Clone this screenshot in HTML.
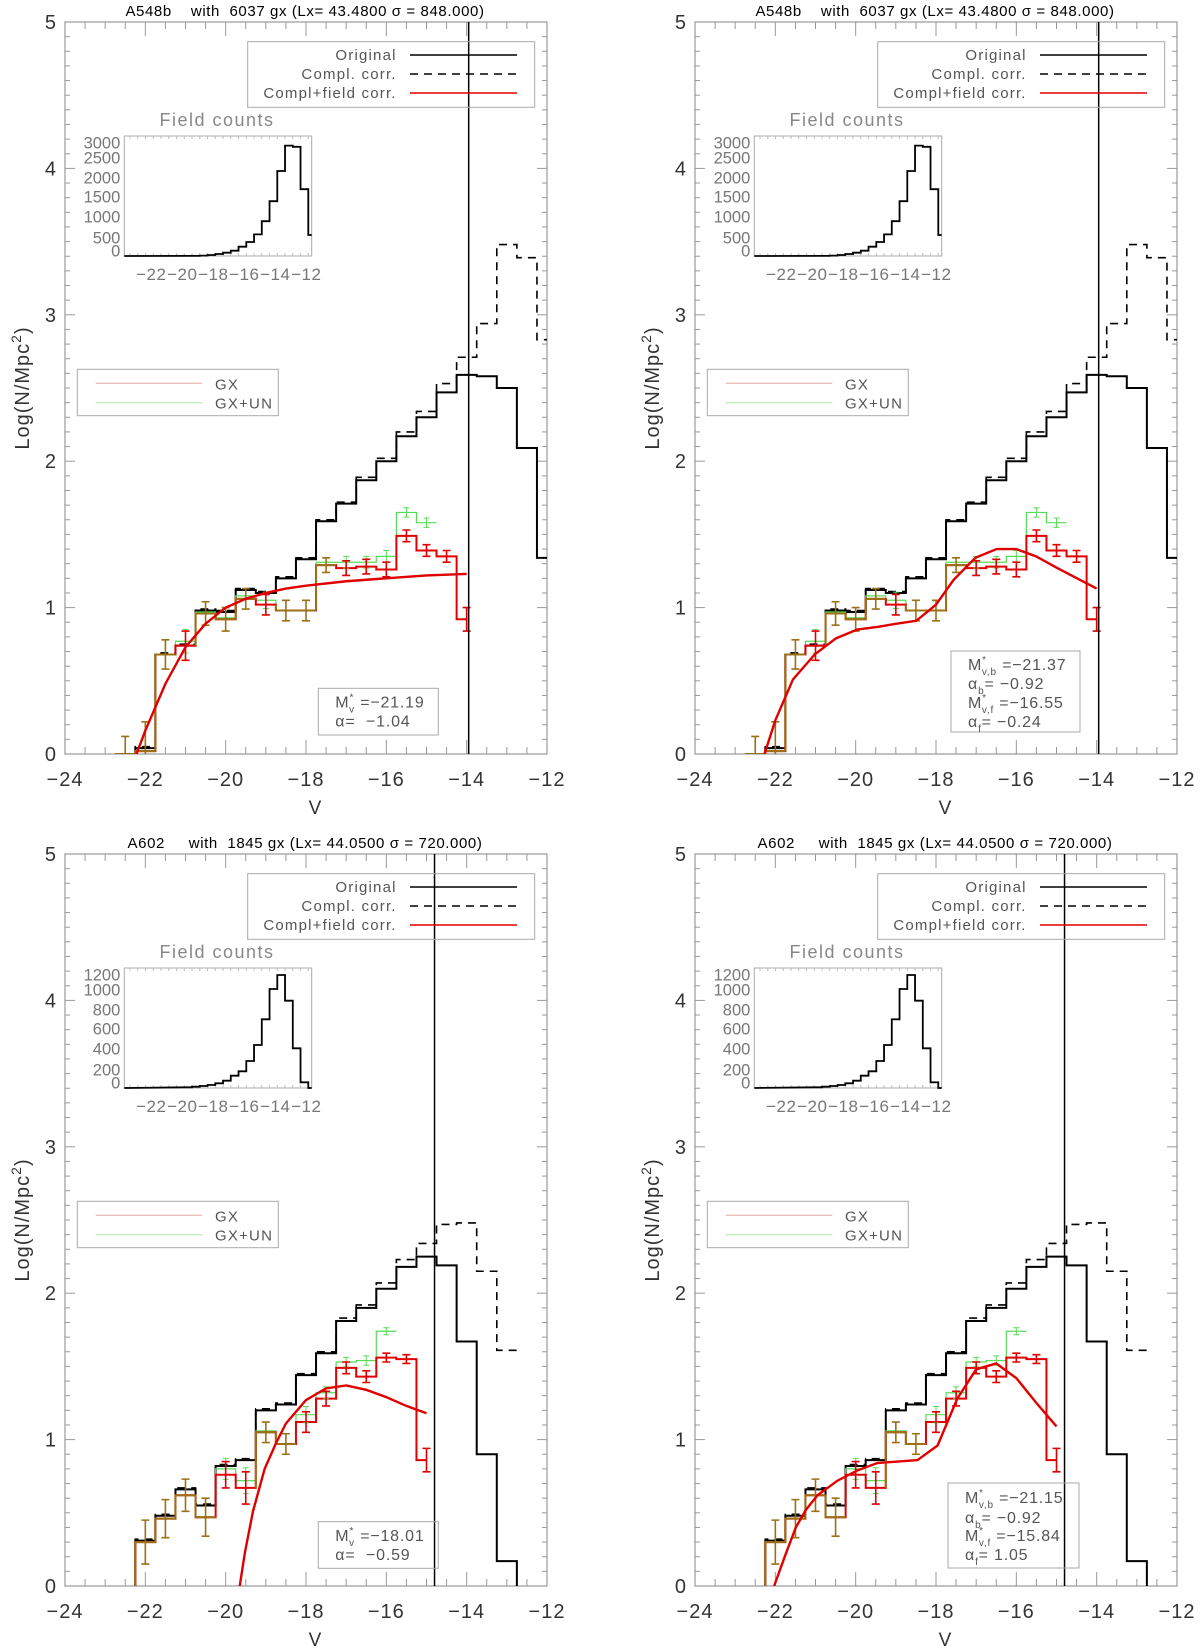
<!DOCTYPE html>
<html><head><meta charset="utf-8"><style>
body{margin:0;background:#fff;}
svg{display:block;font-family:"Liberation Sans",sans-serif;}
.pre{white-space:pre;}
</style></head><body>
<svg id="fig" width="1200" height="1648" viewBox="0 0 1200 1648" xmlns="http://www.w3.org/2000/svg"></svg>
<script>
// ---- data: top cluster (A548b) ----
const binsOrigA = [-22,-21.5,-21,-20.5,-20,-19.5,-19,-18.5,-18,-17.5,-17,-16.5,-16,-15.5,-15,-14.5,-14,-13.5,-13,-12.5,-12];
const origA = [0.04,0.68,0.74,0.98,0.97,1.12,1.10,1.20,1.33,1.59,1.71,1.87,2.00,2.17,2.30,2.47,2.59,2.58,2.50,2.09,1.34];
const complA = [0.05,0.69,0.75,0.99,0.98,1.13,1.11,1.21,1.34,1.60,1.72,1.89,2.02,2.20,2.34,2.53,2.71,2.94,3.48,3.39,2.83];
const binsCorrA = [-22.5,-22,-21.5,-21,-20.5,-20,-19.5,-19,-18.5,-18,-17.5,-17,-16.5,-16,-15.5,-15,-14.5,-14];
const corrA = [0.0,0.02,0.68,0.74,0.96,0.92,1.06,1.02,0.98,0.98,1.29,1.27,1.28,1.26,1.49,1.39,1.35,0.92];
const errA = [0.12,0.2,0.1,0.1,0.08,0.08,0.07,0.07,0.07,0.07,0.05,0.05,0.05,0.05,0.04,0.04,0.04,0.08];
const gxunA = [0.0,0.02,0.68,0.77,0.97,0.93,1.08,1.05,0.98,0.98,1.31,1.31,1.31,1.35,1.65,1.58];
const fitA1V = [-22.22,-22,-21.5,-21,-20.5,-20,-19.5,-19,-18.5,-18,-17,-16,-15,-14];
const fitA1 = [0,0.16,0.48,0.73,0.89,1.0,1.06,1.10,1.13,1.15,1.18,1.20,1.22,1.23];
const fitA2V = [-22.27,-22.0,-21.56,-21.02,-20.49,-19.96,-19.42,-18.98,-18.49,-18.0,-17.56,-17.02,-16.49,-16.0,-15.51,-14.98,-14.0];
const fitA2 = [0,0.23,0.51,0.68,0.79,0.85,0.87,0.89,0.91,1.02,1.19,1.34,1.40,1.40,1.35,1.27,1.13];
const fieldBinsA = [-11.75,-12.25,-12.75,-13.25,-13.75,-14.25,-14.75,-15.25,-15.75,-16.25,-16.75,-17.25,-17.75,-18.25,-18.75,-19.25];
const fieldA = [525,1670,2730,2760,2125,1370,870,540,350,233,133,83,50,25,10,4];
// ---- data: bottom cluster (A602) ----
const binsOrigB = [-22,-21.5,-21,-20.5,-20,-19.5,-19,-18.5,-18,-17.5,-17,-16.5,-16,-15.5,-15,-14.5,-14,-13.5,-13];
const origB = [0.31,0.48,0.66,0.55,0.82,0.86,1.20,1.24,1.44,1.59,1.81,1.90,2.03,2.18,2.25,2.19,1.67,0.90,0.17];
const complB = [0.32,0.49,0.67,0.56,0.83,0.87,1.21,1.25,1.45,1.60,1.83,1.92,2.07,2.23,2.34,2.47,2.48,2.15,1.61];
const binsCorrB = [-22,-21.5,-21,-20.5,-20,-19.5,-19,-18.5,-18,-17.5,-17,-16.5,-16,-15.5,-15];
const corrB = [0.30,0.46,0.62,0.47,0.76,0.67,1.05,0.97,1.12,1.28,1.49,1.43,1.56,1.55,0.86];
const errB = [0.15,0.13,0.11,0.13,0.09,0.11,0.07,0.07,0.07,0.05,0.04,0.04,0.03,0.03,0.08];
const gxunB = [0.30,0.46,0.62,0.47,0.80,0.72,1.06,0.97,1.17,1.32,1.53,1.54,1.74];
const fitB1V = [-19.65,-19.52,-19.32,-19.03,-18.74,-18.5,-18,-17.5,-17,-16.5,-16,-15.5,-15];
const fitB1 = [0,0.23,0.51,0.80,0.98,1.11,1.27,1.35,1.37,1.34,1.29,1.23,1.18];
const fitB2V = [-22.03,-21.74,-21.49,-21.24,-20.95,-20.45,-19.95,-19.46,-18.96,-18.46,-17.96,-17.47,-17.0,-16.5,-16.0,-15.5,-15.0];
const fitB2 = [0,0.22,0.40,0.52,0.62,0.72,0.79,0.84,0.85,0.86,0.96,1.28,1.48,1.52,1.42,1.25,1.09];
const fieldBinsB = [-12.25,-12.75,-13.25,-13.75,-14.25,-14.75,-15.25,-15.75,-16.25,-16.75,-17.25,-17.75,-18.25,-18.75,-19.25,-19.75];
const fieldB = [57,397,873,1130,990,687,430,270,167,123,73,47,30,20,13,7];
const xTicks = [-24,-22,-20,-18,-16,-14,-12];
const yTicks = [0,1,2,3,4,5];
const insetXTicks = [-22,-20,-18,-16,-14,-12];
const insetYTicksA = [0,500,1000,1500,2000,2500,3000];
const insetYTicksB = [0,200,400,600,800,1000,1200];

const NS = "http://www.w3.org/2000/svg";
const svg = document.getElementById('fig');
function mk(parent, tag, attrs, txt){
  const e = document.createElementNS(NS, tag);
  for (const k in attrs) e.setAttribute(k, attrs[k]);
  if (txt !== undefined) e.textContent = txt;
  parent.appendChild(e);
  return e;
}
const W = 482, H = 732;
function drawPanel(idx, ox, oy, D){
  const g = mk(svg, 'g', {transform:`translate(${ox},${oy})`});
  
  
  const X = v => (v + 24) / 12 * W;
  const Y = v => H - v / 5 * H;
  const cid = 'clip' + idx;
  const cp = mk(g, 'clipPath', {id:cid});
  mk(cp, 'rect', {x:0, y:0, width:W, height:H});
  const t = mk(g, 'text', {x:240, y:-6, 'text-anchor':'middle', 'font-size':15, fill:'#000', 'letter-spacing':0.6, 'class':'pre'}, D.title);
  
  
  const fr = mk(g, 'rect', {x:0, y:0, width:W, height:H, fill:'none', stroke:'#999', 'stroke-width':1.2});
  
  
  const tg = mk(g, 'g', {stroke:'#999', 'stroke-width':1});
  
  
  for (let v = -24; v <= -11.99; v += 0.5) {
    const major = Math.abs(v / 2 - Math.round(v / 2)) < 1e-6;
    const L = major ? 14 : 7;
    mk(tg, 'line', {x1:X(v), x2:X(v), y1:H, y2:H - L});
    mk(tg, 'line', {x1:X(v), x2:X(v), y1:0, y2:L});
  }
  for (let i = 0; i <= 50; i++) {
    const v = i / 10, L = (i % 10 === 0) ? 10 : 5;
    mk(tg, 'line', {x1:0, x2:L, y1:Y(v), y2:Y(v)});
    mk(tg, 'line', {x1:W, x2:W - L, y1:Y(v), y2:Y(v)});
  }
  xTicks.forEach(v => {
    const e = mk(g, 'text', {x:X(v), y:H + 32, 'text-anchor':'middle', 'font-size':20, fill:'#333', 'letter-spacing':1}, (v < 0 ? '\u2212' : '') + Math.abs(v));
    
    
  });
  yTicks.forEach(v => {
    const e = mk(g, 'text', {x:-9, y:Y(v) + 7, 'text-anchor':'end', 'font-size':20, fill:'#333'}, String(v));
    
    
  });
  const xl = mk(g, 'text', {x:250, y:H + 60, 'text-anchor':'middle', 'font-size':19, fill:'#333'}, 'V');
  
  
  const yl = mk(g, 'text', {x:0, y:0, transform:`translate(-36,${H/2}) rotate(-90)`, 'text-anchor':'middle', 'font-size':20, fill:'#333', 'letter-spacing':1});
  
  
  mk(yl, 'tspan', {}, 'Log(N/Mpc');
  mk(yl, 'tspan', {dy:-8, 'font-size':14}, '2');
  mk(yl, 'tspan', {dy:8}, ')');

  const pg = mk(g, 'g', {'clip-path':`url(#${cid})`, fill:'none'});
  function hist(bins, vals, opts){
    let d = `M${X(bins[0] - 0.25)},${Y(0)}`;
    vals.forEach((v, i) => {
      const c = bins[i];
      const right = (opts.halfLast && i === vals.length - 1) ? c : c + 0.25;
      d += ` L${X(c - 0.25)},${Y(v)} L${X(right)},${Y(v)}`;
    });
    if (opts.dropEnd) d += ` L${X(bins[vals.length - 1] + 0.25)},${Y(0)}`;
    return mk(pg, 'path', {d, stroke:opts.color, 'stroke-width':opts.w, 'stroke-dasharray':opts.dash || 'none'});
  }
  const c1 = hist(D.bo, D.compl, {color:'#000', w:1.6, dash:'8,6'});
  
  
  const o1 = hist(D.bo, D.orig, {color:'#000', w:2, dropEnd:true});
  
  
  const gr = hist(D.bc, D.gxun, {color:'#55dd55', w:1.2});
  
  
  const rd = hist(D.bc, D.corr, {color:'#e00000', w:2, halfLast:true});
  
  
  D.corr.forEach((v, i) => {
    const c = D.bc[i];
    const gv = D.gxun[i];
    const same = gv !== undefined && Math.abs(gv - v) < 0.025;
    if (same) {
      const prev = i > 0 ? D.corr[i - 1] : 0;
      const s = mk(pg, 'path', {d:`M${X(c - 0.25)},${Y(prev)} L${X(c - 0.25)},${Y(v)} L${X(c + 0.25)},${Y(v)}`, stroke:'#9c7016', 'stroke-width':2});
      
      
    } else if (gv !== undefined) {
      const ge = D.err[i] * 0.8;
      const eb = mk(pg, 'path', {d:`M${X(c)},${Y(gv - ge)} V${Y(gv + ge)} M${X(c) - 3},${Y(gv - ge)} h6 M${X(c) - 3},${Y(gv + ge)} h6`, stroke:'#55dd55', 'stroke-width':1});
      
      
    }
    const e = D.err[i];
    const col = same ? '#9c7016' : '#e00000';
    const b = mk(pg, 'path', {d:`M${X(c)},${Y(v - e)} V${Y(v + e)} M${X(c) - 4},${Y(v - e)} h8 M${X(c) - 4},${Y(v + e)} h8`, stroke:col, 'stroke-width':1.6});
    
    
  });
  const fd = D.fitV.map((v, i) => (i ? 'L' : 'M') + X(v) + ',' + Y(D.fit[i])).join(' ');
  const fc = mk(pg, 'path', {d:fd, stroke:'#e00000', 'stroke-width':2.4});
  
  
  const vl = mk(g, 'line', {x1:X(D.vline), x2:X(D.vline), y1:0, y2:H, stroke:'#000', 'stroke-width':1.5});
  
  

  const lg = mk(g, 'g', {});
  
  
  mk(lg, 'rect', {x:182.7, y:19.7, width:287, height:65.6, fill:'none', stroke:'#aaa', 'stroke-width':1});
  [['Original','#000','none',33],['Compl. corr.','#000','8,6',52],['Compl+field corr.','#d00','none',71]].forEach(r => {
    const te = mk(lg, 'text', {x:331.7, y:r[3] + 5, 'text-anchor':'end', 'font-size':15, fill:'#555', 'letter-spacing':1.2}, r[0]);
    
    
    mk(lg, 'line', {x1:345, x2:452, y1:r[3], y2:r[3], stroke:r[1], 'stroke-width':1.4, 'stroke-dasharray':r[2]});
  });
  const lg2 = mk(g, 'g', {});
  
  
  mk(lg2, 'rect', {x:12.3, y:347.3, width:201, height:46.4, fill:'none', stroke:'#aaa', 'stroke-width':1});
  [['GX','#e8a8a8',361.3],['GX+UN','#a8e8a8',380.7]].forEach(r => {
    mk(lg2, 'line', {x1:30.7, x2:137.3, y1:r[2], y2:r[2], stroke:r[1], 'stroke-width':1});
    const te = mk(lg2, 'text', {x:150, y:r[2] + 6, 'font-size':15, fill:'#555', 'letter-spacing':1.2}, r[0]);
    
    
  });
  const ig = mk(g, 'g', {});
  
  
  const ix0 = 59.3, ix1 = 246.7, iy0 = 114, iy1 = 234;
  const IX = v => ix0 + (v + 23.87) * 15.5;
  const IY = c => iy1 - c / D.fmax * (iy1 - iy0);
  const it = mk(ig, 'text', {x:152, y:104, 'text-anchor':'middle', 'font-size':18, fill:'#888', 'letter-spacing':1.5}, 'Field counts');
  
  
  mk(ig, 'rect', {x:ix0, y:iy0, width:ix1 - ix0, height:iy1 - iy0, fill:'none', stroke:'#aaa', 'stroke-width':1});
  for (let v = -23.5; v < -11.8; v += 0.5) {
    mk(ig, 'line', {x1:IX(v), x2:IX(v), y1:iy1, y2:iy1 - 3, stroke:'#bbb'});
    mk(ig, 'line', {x1:IX(v), x2:IX(v), y1:iy0, y2:iy0 + 3, stroke:'#bbb'});
  }
  insetXTicks.forEach(v => {
    const e = mk(ig, 'text', {x:IX(v) - 2, y:iy1 + 24, 'text-anchor':'middle', 'font-size':17, fill:'#777', 'letter-spacing':0.5}, '\u2212' + Math.abs(v));
    
    
  });
  const lblY = [250.7,237.3,216.7,196.7,177.3,157.7,142.3];
  D.iyt.forEach((v, i) => {
    const e = mk(ig, 'text', {x:ix0 - 4, y:lblY[i] - 22 + 6, 'text-anchor':'end', 'font-size':16.5, fill:'#777'}, String(v));
    
    
  });
  const order = D.fb.map((b, i) => i).sort((a, b) => D.fb[a] - D.fb[b]);
  let d = `M${ix0},${IY(0)}`;
  order.forEach(i => {
    const c = D.fb[i];
    d += ` L${IX(c - 0.25)},${IY(D.fc[i])} L${Math.min(IX(c + 0.25), ix1)},${IY(D.fc[i])}`;
  });
  if (IX(D.fb[order[order.length - 1]] + 0.25) < ix1) d += ` L${IX(D.fb[order[order.length-1]] + 0.25)},${IY(0)} L${ix1},${IY(0)}`;
  const ih = mk(ig, 'path', {d, fill:'none', stroke:'#000', 'stroke-width':1.8});
  
  

  const pb = mk(g, 'g', {});
  
  
  mk(pb, 'rect', {x:D.box[0], y:D.box[1], width:D.box[2], height:D.box[3], fill:'none', stroke:'#aaa', 'stroke-width':1});
  D.params.forEach(p => {
    const te = mk(pb, 'text', {x:D.box[0] + 17, y:p.y + 6, 'font-size':16, fill:'#555', 'letter-spacing':0.8, 'class':'pre'});
    
    
    mk(te, 'tspan', {}, p.sym);
    if (p.sup) mk(te, 'tspan', {dy:-7, 'font-size':10}, p.sup);
    if (p.sub) mk(te, 'tspan', {dy:p.sup ? 12 : 5, dx:p.sup ? -5 : 0, 'font-size':10}, p.sub);
    mk(te, 'tspan', {dy:p.sup ? -5 : (p.sub ? -5 : 0)}, p.val);
  });
}
const titleA = 'A548b    with  6037 gx (Lx= 43.4800 \u03c3 = 848.000)';
const titleB = 'A602     with  1845 gx (Lx= 44.0500 \u03c3 = 720.000)';
const baseA = {title:titleA, bo:binsOrigA, orig:origA, compl:complA, bc:binsCorrA, corr:corrA, err:errA, gxun:gxunA, vline:-13.95, fb:fieldBinsA, fc:fieldA, fmax:3000, iyt:insetYTicksA};
const baseB = {title:titleB, bo:binsOrigB, orig:origB, compl:complB, bc:binsCorrB, corr:corrB, err:errB, gxun:gxunB, vline:-14.8, fb:fieldBinsB, fc:fieldB, fmax:1200, iyt:insetYTicksB};
drawPanel(0, 65, 22, Object.assign({}, baseA, {key:'a548b-single', fitV:fitA1V, fit:fitA1, box:[253.3,666.3,120,46.7],
  params:[{sym:'M', sup:'*', sub:'v', val:' =\u221221.19', y:679.7},{sym:'\u03b1= ', val:' \u22121.04', y:698.7}]}));
drawPanel(1, 695, 22, Object.assign({}, baseA, {key:'a548b-double', fitV:fitA2V, fit:fitA2, box:[256,629,129,81],
  params:[{sym:'M', sup:'*', sub:'v,b', val:' =\u221221.37', y:642},{sym:'\u03b1', sub:'b', val:'= \u22120.92', y:661},{sym:'M', sup:'*', sub:'v,f', val:' =\u221216.55', y:680},{sym:'\u03b1', sub:'f', val:'= \u22120.24', y:699}]}));
drawPanel(2, 65, 854, Object.assign({}, baseB, {key:'a602-single', fitV:fitB1V, fit:fitB1, box:[253.3,667.7,120,46.6],
  params:[{sym:'M', sup:'*', sub:'v', val:' =\u221218.01', y:681},{sym:'\u03b1= ', val:' \u22120.59', y:700}]}));
drawPanel(3, 695, 854, Object.assign({}, baseB, {key:'a602-double', fitV:fitB2V, fit:fitB2, box:[253,629,131,85],
  params:[{sym:'M', sup:'*', sub:'v,b', val:' =\u221221.15', y:643},{sym:'\u03b1', sub:'b', val:'= \u22120.92', y:663},{sym:'M', sup:'*', sub:'v,f', val:' =\u221215.84', y:681},{sym:'\u03b1', sub:'f', val:'= 1.05', y:700}]}));
</script>
</body></html>
